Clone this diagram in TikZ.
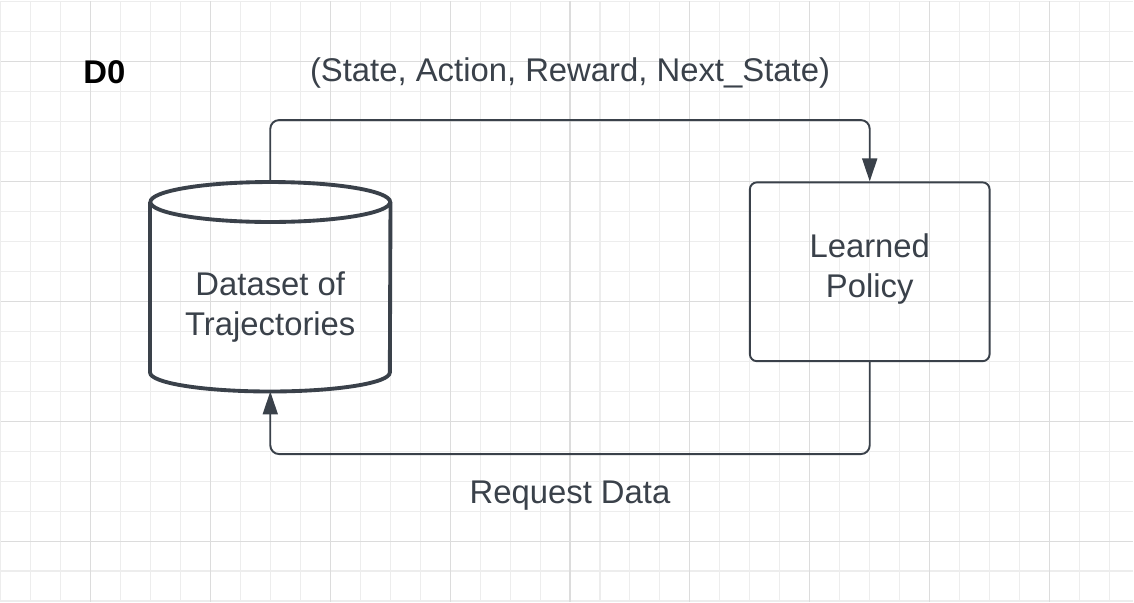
\documentclass[tikz,border=0pt]{standalone}
\usepackage{fontspec}
\setmainfont{Liberation Sans}
\usetikzlibrary{positioning,calc,arrows.meta}
\definecolor{ink}{HTML}{3A414A}
\definecolor{gridminor}{HTML}{EDEDED}
\definecolor{gridmajor}{HTML}{DCDCDC}

\begin{document}
\begin{tikzpicture}[x=0.02cm,y=0.02cm,
    lbl/.style={text=ink, font=\fontsize{18.7}{22.7}\selectfont, align=center},
    policybox/.style={lbl, draw=ink, line width=1.1pt, rounded corners=4pt, minimum width=4.8cm, minimum height=3.58cm, inner sep=0pt},
    databody/.style={lbl, minimum width=4.8cm, minimum height=3.38cm, inner sep=0pt},
    flow/.style={draw=ink, line width=1.1pt, rounded corners=5pt, -{Triangle[length=0.46cm,width=0.30cm]}}]
  % background and grid
  \fill[white] (0,0) rectangle (1134,602);
  \foreach \x in {0,30,...,1110} \draw[gridminor, line width=0.6pt] (\x,0) -- (\x,602);
  \foreach \y in {1,31,...,601} \draw[gridminor, line width=0.6pt] (0,\y) -- (1134,\y);
  \foreach \x in {90,210,...,1050} \draw[gridmajor, line width=0.6pt] (\x,0) -- (\x,602);
  \foreach \y in {61,181,...,541} \draw[gridmajor, line width=0.6pt] (0,\y) -- (1134,\y);
  \useasboundingbox (0,0) rectangle (1134,602);

  % titles
  \node[text=black, font=\fontsize{18.7}{22.7}\selectfont\bfseries] (title) at (104,530) {D0};
  \node[lbl] (tuple) at (570,529) {(State, Action, Reward, Next\_State)};
  \node[lbl] (request) at (570,106) {Request Data};

  % dataset cylinder
  \node[databody] (data) at (270,295.5) {Dataset of\\Trajectories};
  \draw[ink, line width=2.2pt] ($(data.north)+(0,20)$) ellipse [x radius=120, y radius=20];
  \draw[ink, line width=2.2pt] ($(data.north west)+(0,20)$) -- ($(data.south west)+(0,19)$)
      arc[start angle=180, end angle=360, x radius=120, y radius=19] -- ($(data.north east)+(0,20)$);
  \coordinate (datatop) at ($(data.north)+(0,40)$);

  % policy
  \node[policybox, text depth=6.7pt] (policy) at (870,330.5) {Learned\\Policy};

  % loop
  \draw[flow] (datatop) -- ++(0,62) -| (policy.north);
  \draw[flow] (policy.south) -- ++(0,-92) -| (data.south);
\end{tikzpicture}
\end{document}
